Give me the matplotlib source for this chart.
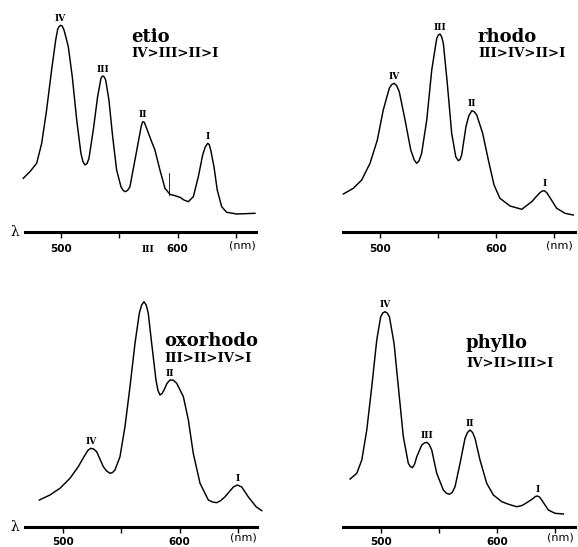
import numpy as np
import matplotlib
matplotlib.use("Agg")
import matplotlib.pyplot as plt

# =========================
# data (wavelength nm, absorbance a.u.)
# =========================
etio_nm = [467.7, 473.4, 479.2, 483.5, 487.7, 492.0, 495.5, 497.2, 498.3, 499.7,
           501.1, 502.6, 503.4, 506.3, 509.7, 513.5, 517.1, 518.8, 520.6, 522.4,
           524.0, 527.7, 531.4, 534.3, 535.1, 536.0, 537.1, 538.3, 541.1, 544.3,
           547.7, 551.4, 553.0, 554.8, 557.0, 559.1, 563.4, 567.7, 568.8, 570.0,
           571.5, 573.4, 577.7, 580.5, 584.8, 589.1, 593.4, 597.7, 602.0, 605.4,
           609.1, 613.4, 617.7, 621.4, 623.6, 625.7, 627.0, 628.3, 631.1, 633.9,
           637.7, 642.0, 650.6, 666.2]
etio_abs = [53.7, 60.3, 68.7, 88.7, 122, 162, 192, 202.7, 205.3, 206.7,
            206, 202, 198.7, 185.3, 155.3, 112, 78.7, 70.5, 67, 68.5,
            73.7, 102, 135.3, 153.7, 155.3, 156, 155, 152, 132, 95.3,
            62, 45.3, 42, 40.3, 41.5, 45.3, 72, 99, 106, 110.3,
            109.5, 103.7, 90.3, 82, 62, 43.7, 37.7, 36.3, 34.7, 32,
            30.3, 35.3, 55.3, 77, 85, 88.7, 87.5, 82, 65.3, 42,
            25.3, 19.7, 18, 18.7]

rhodo_nm = [468.4, 477.0, 484.2, 491.4, 497.7, 502.8, 508.0, 510.0, 512.1, 514.3,
            516.6, 521.6, 526.5, 529.5, 531.6, 533.6, 535.9, 540.3, 544.6, 548.9,
            550.3, 551.7, 553.2, 554.6, 558.0, 561.8, 565.3, 567.5, 569.0, 570.4,
            574.1, 576.5, 579.1, 581.2, 583.4, 588.5, 593.4, 598.3, 603.4, 612.1,
            622.2, 630.8, 637.3, 639.5, 641.6, 643.8, 646.0, 652.3, 659.5, 666.6]
rhodo_abs = [38, 43.7, 52, 68.7, 92, 122, 143.7, 147.3, 148.7, 146.5,
             140.3, 112, 82, 72, 68.7, 71, 78.7, 112, 162, 193.7,
             197, 198, 195, 188.7, 148.7, 98.7, 75.3, 71.3, 72.5, 77,
             105.3, 116, 121.3, 120.3, 117, 98.7, 72, 47, 33.7, 26,
             22.7, 30.3, 38.7, 40.8, 41.3, 39.3, 35.3, 23.7, 18.7, 17]

oxorhodo_nm = [479.7, 488.8, 497.4, 506.0, 513.1, 518.9, 521.3, 523.8, 526.3, 528.9,
               534.6, 537.5, 540.3, 542.5, 544.6, 548.9, 553.2, 557.5, 561.8, 565.5,
               567.5, 569.5, 571.4, 573.2, 576.1, 579.8, 581.5, 583.3, 585.0, 586.7,
               589.2, 591.8, 594.7, 597.6, 603.3, 607.6, 611.8, 617.6, 624.7, 628.3,
               631.9, 635.5, 639.1, 646.2, 649.6, 653.4, 659.1, 665.7, 670.6]
oxorhodo_abs = [27, 32, 38.7, 48.7, 60.3, 72, 76.5, 78.7, 78, 75.3,
                60.3, 56, 53.7, 54.5, 57, 70.3, 100.3, 140.3, 183.7, 213.7,
                222, 225.3, 222, 213.7, 183.7, 147, 136.5, 132, 133.5, 137,
                143.5, 147, 146.8, 143.7, 130.3, 107, 73.7, 43.7, 27, 25,
                24.3, 26.5, 30.3, 40, 42, 40, 30, 20.3, 16.3]

phyllo_nm = [473.3, 479.1, 483.4, 487.7, 492.0, 496.3, 499.7, 501.5, 503.4, 505.3,
             507.2, 511.2, 514.9, 519.2, 523.5, 525.2, 527.0, 528.8, 530.8, 535.1,
             537.3, 539.4, 541.5, 543.7, 548.0, 553.7, 556.3, 558.9, 561.3, 563.8,
             568.1, 572.4, 574.5, 576.7, 578.9, 581.0, 585.3, 591.1, 596.8, 604.1,
             610.5, 617.0, 621.5, 625.6, 631.3, 633.0, 634.7, 636.6, 638.5, 644.2,
             650.0, 657.2]
phyllo_abs = [48, 53.7, 67, 97, 140.3, 187, 210.3, 214, 215.3, 214,
              210.3, 183.7, 140.3, 90.3, 63.7, 60.5, 59.3, 62.5, 70.3, 82,
              84, 84.7, 82.5, 77, 53.7, 37, 33.8, 32.7, 34.5, 40.3,
              63.7, 88.7, 94.5, 97, 94.5, 88.7, 67, 43.7, 32, 25.3,
              22.5, 20.3, 21.5, 24.3, 28.7, 30.5, 31, 30, 27, 17,
              13.7, 13]

# band labels and approximate band maxima (nm)
etio_bands = [("IV", 500), ("III", 536), ("II", 570), ("I", 626)]
rhodo_bands = [("IV", 512), ("III", 552), ("II", 579), ("I", 642)]
oxorhodo_bands = [("IV", 524), ("II", 592), ("I", 650)]
phyllo_bands = [("IV", 503), ("III", 539), ("II", 577), ("I", 635)]

names = ["etio", "rhodo", "oxorhodo", "phyllo"]
orders = ["IV>III>II>I", "III>IV>II>I", "III>II>IV>I", "IV>II>III>I"]

tick_pos = [500, 550, 600, 650]
tick_lab = ["500", "", "600", ""]

# =========================
# figure
# =========================
W, H = 578, 547
fig = plt.figure(figsize=(W / 100, H / 100), dpi=100)
fig.patch.set_facecolor("white")


def fx(x):
    return x / W


def fy(y):
    return 1 - y / H


# panel boxes in pixels: left, right, axis y, top, xlim
panels = [
    (25, 256, 232, 0, (469.2, 667.1)),
    (343, 575, 232, 0, (468.1, 668.1)),
    (25, 257, 527, 280, (467.4, 666.5)),
    (343, 575, 527, 280, (467.2, 667.2)),
]
curves = [(etio_nm, etio_abs), (rhodo_nm, rhodo_abs),
          (oxorhodo_nm, oxorhodo_abs), (phyllo_nm, phyllo_abs)]
bands = [etio_bands, rhodo_bands, oxorhodo_bands, phyllo_bands]
title_xy = [(131, 42, 57), (478, 42, 57), (164, 346, 362), (466, 348, 367)]

serif = "DejaVu Serif"

axes = []
for i, (l, r, ya, yt, xl) in enumerate(panels):
    ax = fig.add_axes([fx(l), fy(ya), (r - l) / W, (ya - yt) / H])
    ax.set_facecolor("none")
    x, y = curves[i]
    ax.plot(x, y, color="black", lw=1.05, clip_on=False,
            solid_joinstyle="round")
    ax.set_xlim(*xl)
    ax.set_ylim(0, ya - yt)
    for s in ["top", "right", "left"]:
        ax.spines[s].set_visible(False)
    ax.spines["bottom"].set_linewidth(2.2)
    ax.set_yticks([])
    ax.set_xticks(tick_pos)
    ax.set_xticklabels(tick_lab, fontsize=7.5, fontweight="bold")
    bottom_row = i >= 2
    ax.tick_params(axis="x", direction="out", length=4, width=1.0,
                   pad=3.2 if bottom_row else 5)

    # band labels above local maxima
    xa, ya_ = np.array(x), np.array(y)
    for lab, c in bands[i]:
        m = np.abs(xa - c) <= 4
        k = np.argmax(np.where(m, ya_, -1))
        ax.annotate(lab, xy=(xa[k], ya_[k]), xytext=(0, 3.2),
                    textcoords="offset points", ha="center", va="baseline",
                    fontsize=6.5, fontweight="bold", family=serif)

    # (nm) unit label
    ax.text(655, -11 if bottom_row else -13, "(nm)", fontsize=8,
            ha="center", va="center", clip_on=False)
    axes.append(ax)

    tx, ty1, ty2 = title_xy[i]
    fig.text(fx(tx), fy(ty1), names[i], fontsize=13, fontweight="bold",
             family=serif, ha="left", va="baseline")
    fig.text(fx(tx), fy(ty2), orders[i], fontsize=9.5, fontweight="bold",
             family=serif, ha="left", va="baseline")

# lambda marks at the left axes
fig.text(fx(15), fy(232), "λ", fontsize=10, family=serif, ha="center", va="center")
fig.text(fx(15), fy(527), "λ", fontsize=10, family=serif, ha="center", va="center")

# scan artefacts in the etio panel
axes[0].plot([592.8, 592.8], [37, 58.7], color="black", lw=0.6)
fig.text(fx(148), fy(250), "III", fontsize=6.5, fontweight="bold", family=serif,
         ha="center", va="center")

fig.savefig("out.png", dpi=100)
